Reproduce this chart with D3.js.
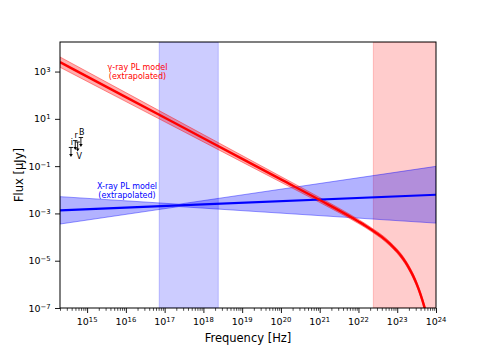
<!DOCTYPE html>
<html>
<head>
<meta charset="utf-8">
<script src="https://cdn.jsdelivr.net/npm/d3@7"></script>
<style>
  html, body { margin: 0; padding: 0; background: #fff; }
  svg { display: block; }
  text { font-family: "DejaVu Sans", sans-serif; }
</style>
</head>
<body>
<svg id="chart" width="485" height="347"></svg>
<script>
// ---------------- data ----------------
// axis limits
const xDomain = [2e14, 1e24];              // Hz
const yDomainLog = [-7, 4.25];             // log10 µJy
const xTickExponents = [15, 16, 17, 18, 19, 20, 21, 22, 23, 24];
const yTickExponents = [-7, -5, -3, -1, 1, 3];

// shaded frequency bands (X-ray: 0.3-10 keV, gamma: >100 MeV)
const xrayBand = [7.25e16, 2.42e18];
const gammaBand = [2.42e22, 1e25];

// gamma-ray PL model (log10 frequency, log10 flux, log10 half-width of band)
const gammaLogNu   = [14.3, 16, 18, 20, 21, 22, 22.2, 22.4, 22.6, 22.8, 22.9, 23.0, 23.1, 23.2, 23.3, 23.4, 23.5, 23.6, 23.7, 23.8];
const gammaLogFlux = [3.40, 1.92, 0.18, -1.56, -2.43, -3.34, -3.54, -3.76, -3.99, -4.27, -4.43, -4.60, -4.80, -5.03, -5.30, -5.61, -5.98, -6.42, -6.95, -7.60];
const gammaLogErr  = [0.218, 0.189, 0.155, 0.121, 0.104, 0.087, 0.083, 0.080, 0.083, 0.087, 0.089, 0.090, 0.092, 0.094, 0.095, 0.097, 0.099, 0.100, 0.102, 0.104];

// X-ray PL model (bow-tie, pivot near 1 keV)
const xrayLogNu    = [14.3, 17.37, 24.0];
const xrayLogFlux  = [-2.87, -2.66, -2.21];
const xrayLogUpper = [-2.29, -2.61, -1.01];
const xrayLogLower = [-3.45, -2.71, -3.41];

// optical upper limits
const limBands   = ["i", "r", "V", "B"];
const limFreq    = [3.84e14, 4.95e14, 5.71e14, 6.92e14];
const limLogFlux = [-0.21, 0.08, 0.02, 0.21];
const limLabelBelow = [false, false, true, false];

// ---------------- layout ----------------
const margin = { left: 60, right: 49, top: 42, bottom: 39 };
const W = 485, H = 347;
const svg = d3.select("#chart");
const pw = W - margin.left - margin.right;
const ph = H - margin.top - margin.bottom;

const xs = d3.scaleLog().domain(xDomain).range([margin.left, margin.left + pw]);
const ys = d3.scaleLog().domain(yDomainLog.map(v => Math.pow(10, v))).range([margin.top + ph, margin.top]);
const p10 = v => Math.pow(10, v);

svg.append("defs").append("clipPath").attr("id", "clip")
  .append("rect").attr("x", margin.left).attr("y", margin.top).attr("width", pw).attr("height", ph);

const plot = svg.append("g").attr("clip-path", "url(#clip)");

// shaded bands
plot.append("rect")
  .attr("x", xs(xrayBand[0])).attr("width", xs(xrayBand[1]) - xs(xrayBand[0]))
  .attr("y", margin.top).attr("height", ph)
  .attr("fill", "rgba(0,0,255,0.2)").attr("stroke", "rgba(0,0,255,0.2)").attr("stroke-width", 1);
plot.append("rect")
  .attr("x", xs(gammaBand[0])).attr("width", xs(gammaBand[1]) - xs(gammaBand[0]))
  .attr("y", margin.top).attr("height", ph)
  .attr("fill", "rgba(255,0,0,0.2)").attr("stroke", "rgba(255,0,0,0.2)").attr("stroke-width", 1);

// X-ray bow-tie
const xrayPts = xrayLogNu.map((L, i) => ({ nu: p10(L), f: p10(xrayLogFlux[i]), hi: p10(xrayLogUpper[i]), lo: p10(xrayLogLower[i]) }));
plot.append("path").datum(xrayPts)
  .attr("d", d3.area().x(d => xs(d.nu)).y0(d => ys(d.lo)).y1(d => ys(d.hi)))
  .attr("fill", "rgba(0,0,255,0.3)").attr("stroke", "rgba(0,0,255,0.45)").attr("stroke-width", 0.9);

// gamma band
const gPts = gammaLogNu.map((L, i) => ({ nu: p10(L), f: p10(gammaLogFlux[i]), hi: p10(gammaLogFlux[i] + gammaLogErr[i]), lo: p10(gammaLogFlux[i] - gammaLogErr[i]) }));
plot.append("path").datum(gPts)
  .attr("d", d3.area().x(d => xs(d.nu)).y0(d => ys(d.lo)).y1(d => ys(d.hi)).curve(d3.curveMonotoneX))
  .attr("fill", "rgba(255,0,0,0.32)").attr("stroke", "rgba(255,0,0,0.45)").attr("stroke-width", 0.9);

// X-ray line
plot.append("path").datum(xrayPts)
  .attr("d", d3.line().x(d => xs(d.nu)).y(d => ys(d.f)))
  .attr("fill", "none").attr("stroke", "#0000ff").attr("stroke-width", 2.2);

// gamma line
plot.append("path").datum(gPts)
  .attr("d", d3.line().x(d => xs(d.nu)).y(d => ys(d.f)).curve(d3.curveMonotoneX))
  .attr("fill", "none").attr("stroke", "#ff0000").attr("stroke-width", 2.4);

// upper limits
const lim = svg.append("g");
limBands.forEach((b, i) => {
  const x = xs(limFreq[i]), y = ys(p10(limLogFlux[i]));
  const len = 9.5;
  lim.append("line").attr("x1", x - 2.2).attr("x2", x + 2.2).attr("y1", y).attr("y2", y).attr("stroke", "#000").attr("stroke-width", 0.9);
  lim.append("line").attr("x1", x).attr("x2", x).attr("y1", y).attr("y2", y + len - 2).attr("stroke", "#000").attr("stroke-width", 0.9);
  lim.append("path").attr("d", `M${x - 1.8},${y + len - 3} L${x + 1.8},${y + len - 3} L${x},${y + len} Z`).attr("fill", "#000");
  lim.append("text").attr("x", limLabelBelow[i] ? x + 1.5 : x + 0.8)
    .attr("y", limLabelBelow[i] ? y + len + 7.5 : y - 2.5)
    .attr("text-anchor", "middle").attr("font-size", 8).attr("fill", "#000").text(b);
});

// annotations
const gl = svg.append("text").attr("x", xs(2e16)).attr("y", ys(p10(3.06))).attr("text-anchor", "middle")
  .attr("font-size", 8).attr("fill", "#ff0000");
gl.append("tspan").attr("x", xs(2e16)).text("γ-ray PL model");
gl.append("tspan").attr("x", xs(2e16)).attr("dy", "1.13em").text("(extrapolated)");

const xl = svg.append("text").attr("x", xs(1.07e16)).attr("y", ys(p10(-1.95))).attr("text-anchor", "middle")
  .attr("font-size", 8).attr("fill", "#0000ff");
xl.append("tspan").attr("x", xs(1.07e16)).text("X-ray PL model");
xl.append("tspan").attr("x", xs(1.07e16)).attr("dy", "1.13em").text("(extrapolated)");

// axes
const axisG = svg.append("g");
const xMajor = xTickExponents.map(p10);
const xMinor = [];
for (let d = 14; d <= 23; d++) for (let k = 2; k <= 9; k++) {
  const v = k * Math.pow(10, d);
  if (v >= xDomain[0] && v <= xDomain[1]) xMinor.push(v);
}
const xAx = axisG.append("g").attr("transform", `translate(0,${margin.top + ph})`)
  .call(d3.axisBottom(xs).tickValues(xMajor).tickSize(5).tickSizeOuter(0).tickFormat(""));
xAx.select(".domain").remove();
xAx.selectAll(".tick line").attr("stroke-width", 0.9);
const xAxMin = axisG.append("g").attr("transform", `translate(0,${margin.top + ph})`)
  .call(d3.axisBottom(xs).tickValues(xMinor).tickSize(2.8).tickSizeOuter(0).tickFormat(""));
xAxMin.select(".domain").remove();
xAxMin.selectAll(".tick line").attr("stroke-width", 0.7);

xTickExponents.forEach(e => {
  const t = axisG.append("text").attr("x", xs(p10(e))).attr("y", margin.top + ph + 17)
    .attr("text-anchor", "middle").attr("font-size", 9.5).attr("fill", "#000");
  t.append("tspan").text("10");
  t.append("tspan").attr("dy", "-0.42em").attr("font-size", 6.8).text(String(e));
});

const yAx = axisG.append("g").attr("transform", `translate(${margin.left},0)`)
  .call(d3.axisLeft(ys).tickValues(yTickExponents.map(p10)).tickSize(5).tickSizeOuter(0).tickFormat(""));
yAx.select(".domain").remove();
yAx.selectAll(".tick line").attr("stroke-width", 0.9);

yTickExponents.forEach(e => {
  const t = axisG.append("text").attr("x", margin.left - 9.5).attr("y", ys(p10(e)) + 3.5)
    .attr("text-anchor", "end").attr("font-size", 9.5).attr("fill", "#000");
  t.append("tspan").text("10");
  t.append("tspan").attr("dy", "-0.42em").attr("font-size", 6.8).text(e < 0 ? "\u2212" + Math.abs(e) : String(e));
});

// frame
svg.append("rect").attr("x", margin.left).attr("y", margin.top).attr("width", pw).attr("height", ph)
  .attr("fill", "none").attr("stroke", "#000").attr("stroke-width", 1);

// axis labels
svg.append("text").attr("x", margin.left + pw / 2).attr("y", margin.top + ph + 33.5)
  .attr("text-anchor", "middle").attr("font-size", 11.5).attr("fill", "#000").text("Frequency [Hz]");
svg.append("text").attr("transform", `translate(23,${margin.top + ph / 2}) rotate(-90)`)
  .attr("text-anchor", "middle").attr("font-size", 11.5).attr("fill", "#000").text("Flux [μJy]");
</script>
</body>
</html>
